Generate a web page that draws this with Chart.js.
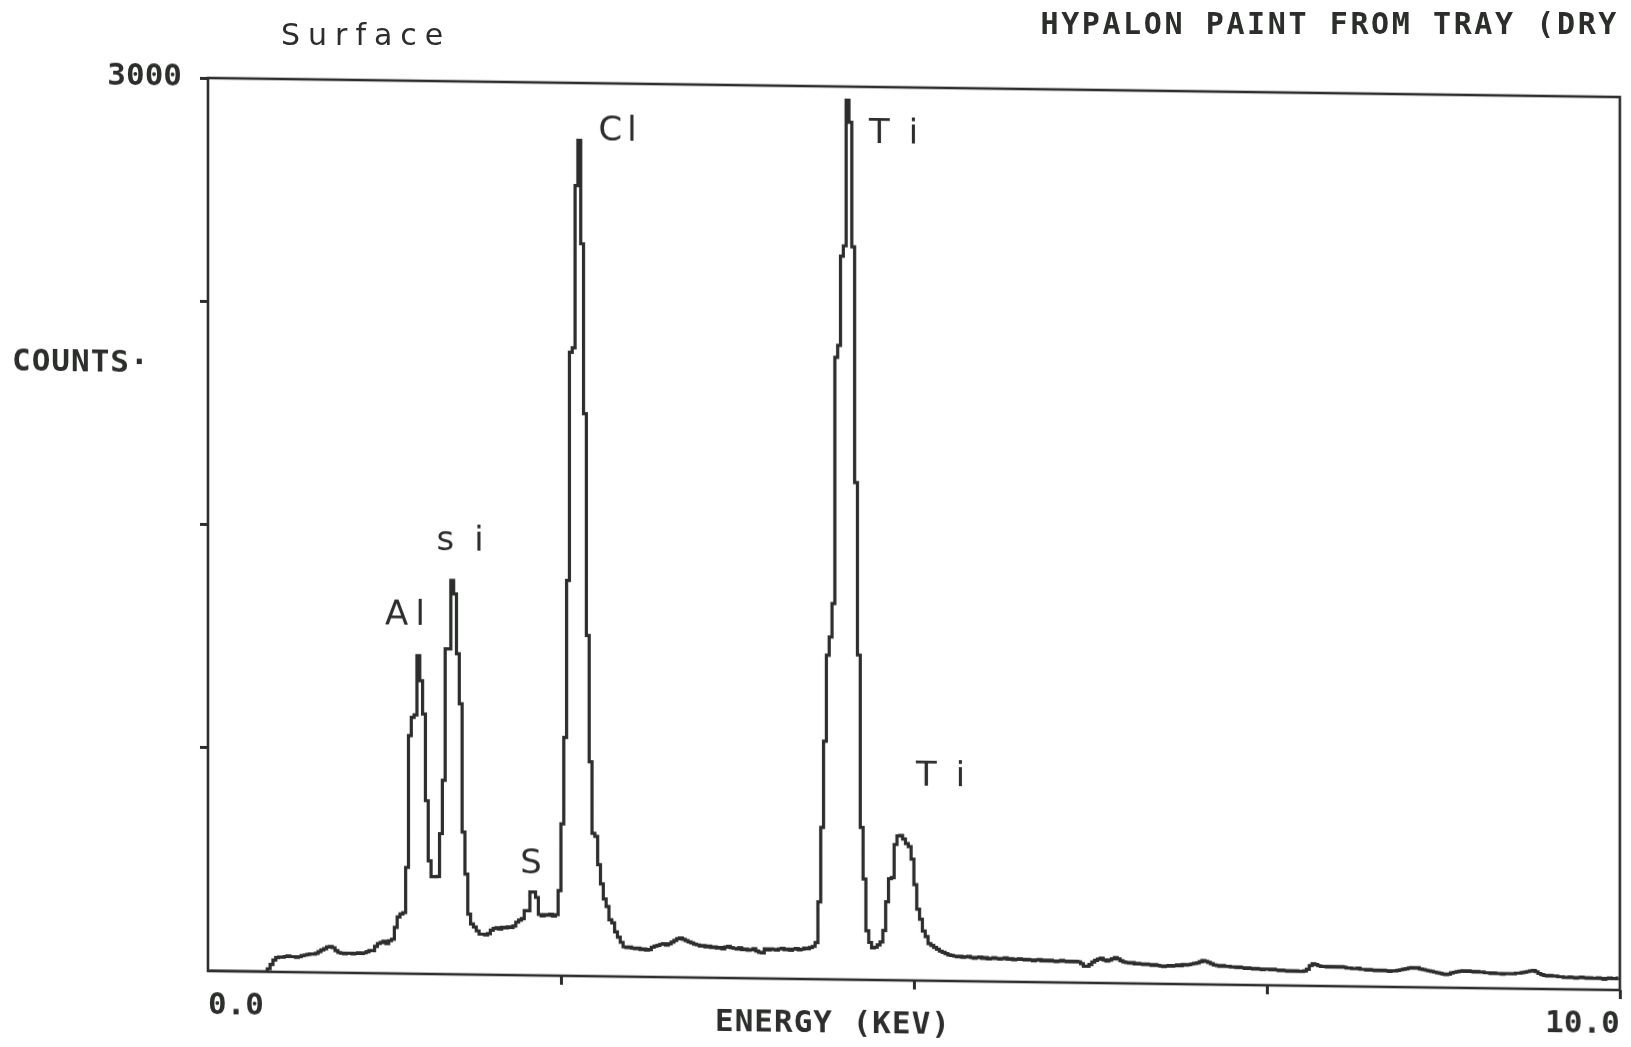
<!DOCTYPE html>
<html>
<head>
<meta charset="utf-8">
<title>Hypalon paint - EDS spectrum</title>
<script src="https://cdn.jsdelivr.net/npm/chart.js@4.4.1/dist/chart.umd.min.js"></script>
<style>
  html, body { margin: 0; padding: 0; background: #fff; }
  body { width: 1631px; height: 1047px; position: relative; overflow: hidden; }
  /* the plotter sheet sits a little crooked */
  #spectrum { position: absolute; left: 0; top: 0; transform-origin: 208px 78px; transform: skewY(0.773deg); }
  .note { position: absolute; color: #2b2e2b; white-space: nowrap; line-height: 1; }
  #sampleName { right: 12px; top: 6px; font: bold 30px "DejaVu Sans Mono"; letter-spacing: 2.6px; }
  #sampleSide { left: 281px; top: 17px; font: 30px "DejaVu Sans"; letter-spacing: 8px; }
</style>
</head>
<body>
<canvas id="spectrum" width="1631" height="1047"></canvas>
<div class="note" id="sampleName">HYPALON PAINT FROM TRAY (DRY</div>
<div class="note" id="sampleSide">Surface</div>
<script>
const ink = "#2b2e2b";

// 20 eV per channel, 0 - 10 keV
const channelWidth = 0.02;
const counts = [
  0, 0, 0, 0, 0, 0, 0, 0, 0, 0, 0, 0, 0, 0, 0, 0, 0, 0, 0, 0,
  0, 10, 25, 40, 48, 50, 50, 52, 54, 52, 52, 50, 52, 56, 58, 60, 62, 62, 64, 70,
  76, 80, 86, 88, 84, 74, 68, 66, 64, 66, 66, 64, 66, 68, 66, 68, 72, 76, 76, 90,
  100, 104, 108, 100, 110, 115, 155, 190, 200, 205, 357, 800, 861, 870, 1069, 985, 873, 582, 380, 327,
  327, 328, 472, 651, 1093, 1093, 1323, 1278, 1077, 909, 478, 337, 203, 170, 160, 147, 136, 136, 134, 138,
  150, 156, 158, 154, 160, 158, 162, 160, 165, 178, 185, 190, 217, 217, 280, 280, 262, 205, 200, 205,
  203, 206, 200, 205, 286, 510, 801, 1328, 2095, 2110, 2655, 2807, 2460, 1889, 1144, 720, 480, 470, 375, 310,
  260, 235, 190, 180, 150, 132, 115, 100, 98, 100, 96, 94, 96, 92, 94, 90, 92, 100, 104, 106,
  110, 112, 108, 112, 118, 124, 130, 132, 128, 124, 120, 116, 112, 110, 106, 108, 104, 106, 102, 104,
  100, 102, 98, 104, 106, 102, 100, 98, 102, 96, 98, 94, 96, 100, 92, 88, 86, 100, 96, 100,
  98, 96, 100, 102, 98, 100, 96, 100, 102, 98, 100, 104, 102, 106, 110, 123, 260, 510, 800, 1089,
  1150, 1263, 2090, 2130, 2430, 2465, 2954, 2880, 2462, 1670, 1091, 512, 339, 165, 126, 108, 110, 118, 128, 167,
  263, 341, 345, 456, 485, 487, 475, 460, 450, 408, 322, 240, 206, 167, 148, 125, 119, 112, 106, 100,
  96, 92, 88, 86, 84, 82, 84, 80, 82, 84, 80, 78, 80, 82, 78, 80, 76, 78, 80, 78,
  76, 78, 80, 76, 78, 74, 76, 78, 76, 74, 76, 74, 72, 74, 76, 72, 74, 72, 74, 72,
  70, 72, 74, 72, 70, 72, 70, 72, 70, 64, 56, 56, 62, 70, 76, 80, 84, 78, 74, 78,
  82, 86, 82, 76, 72, 70, 68, 70, 66, 68, 66, 64, 66, 64, 62, 64, 62, 60, 58, 60,
  62, 60, 62, 64, 62, 66, 64, 66, 68, 70, 72, 76, 80, 78, 74, 70, 66, 64, 62, 64,
  62, 62, 60, 60, 58, 60, 58, 56, 58, 56, 54, 56, 54, 52, 54, 54, 52, 54, 52, 50,
  52, 50, 48, 50, 48, 50, 48, 48, 50, 56, 68, 74, 72, 68, 66, 66, 64, 66, 64, 66,
  64, 66, 64, 62, 62, 60, 60, 62, 58, 58, 56, 58, 56, 54, 56, 54, 56, 54, 52, 54,
  54, 56, 58, 60, 62, 64, 66, 64, 66, 62, 60, 58, 56, 54, 52, 50, 48, 46, 44, 46,
  50, 52, 54, 56, 58, 56, 58, 56, 54, 56, 54, 54, 52, 52, 50, 52, 50, 50, 48, 50,
  50, 50, 50, 52, 52, 54, 56, 58, 60, 62, 58, 52, 48, 46, 44, 46, 44, 44, 42, 42,
  40, 40, 42, 40, 38, 40, 42, 40, 38, 40, 38, 38, 40, 38, 36, 38, 40, 38, 38, 40,
];

const energyTicks = [0, 2.5, 5, 7.5, 10];
const energyTickLabels = ["0.0", "", "", "", "10.0"];
const countTicks = [0, 750, 1500, 2250, 3000];
const countTickLabels = ["", "", "", "", "3000"];

// hand-written element marks next to the peaks
const peakNames = ["Al", "si", "S", "Cl", "Ti", "Ti"];
const peakNameEnergy = [1.395, 1.786, 2.288, 2.9, 4.856, 5.189];
const peakNameCounts = [1202, 1454, 373, 2838, 2840, 684];

const plotterFont = { family: "DejaVu Sans Mono", size: 31, weight: "bold" };
// the handwriting is loose, some marks are spread wide
const markSpacing = { Al: 7, si: 20, S: 0, Cl: 5, Ti: 20 };

const plotFrame = {
  id: "plotFrame",
  afterDraw(chart) {
    const { ctx, chartArea: a, scales } = chart;
    ctx.save();
    ctx.strokeStyle = ink;
    ctx.lineWidth = 2.6;
    ctx.strokeRect(a.left, a.top, a.right - a.left, a.bottom - a.top);

    ctx.fillStyle = ink;
    ctx.font = "bold 31px 'DejaVu Sans Mono'";
    ctx.letterSpacing = "1px";
    ctx.textAlign = "left";
    ctx.textBaseline = "alphabetic";
    ctx.fillText("COUNTS·", 12, 373);
    ctx.fillText("ENERGY (KEV)", 715, a.bottom + 53);

    ctx.font = "34px 'DejaVu Sans'";
    ctx.textBaseline = "middle";
    peakNames.forEach((name, i) => {
      const gap = markSpacing[name] || 0;
      ctx.letterSpacing = gap + "px";
      const w = ctx.measureText(name).width - gap;
      const cx = scales.x.getPixelForValue(peakNameEnergy[i]);
      ctx.fillText(name, cx - w / 2, scales.y.getPixelForValue(peakNameCounts[i]));
    });
    ctx.restore();
  },
};

new Chart(document.getElementById("spectrum"), {
  type: "line",
  data: {
    datasets: [
      {
        data: counts.map((c, i) => ({ x: (i + 0.5) * channelWidth, y: c })),
        stepped: "middle",
        borderColor: ink,
        borderWidth: 3.2,
        pointRadius: 0,
        fill: false,
      },
    ],
  },
  options: {
    responsive: false,
    animation: false,
    devicePixelRatio: 1,
    parsing: false,
    layout: { padding: { top: 78, right: 11, left: 0, bottom: 0 } },
    plugins: {
      legend: { display: false },
      title: { display: false },
      tooltip: { enabled: false },
    },
    scales: {
      x: {
        type: "linear",
        min: 0,
        max: 10,
        afterBuildTicks: (scale) => {
          scale.ticks = energyTicks.map((value) => ({ value }));
        },
        afterFit: (scale) => {
          scale.height = 76;
        },
        border: { display: false },
        grid: {
          drawOnChartArea: false,
          tickLength: 9,
          tickWidth: 3,
          tickColor: (c) => (c.tick && c.tick.value === 0 ? "rgba(0,0,0,0)" : ink),
        },
        ticks: {
          align: "inner",
          maxRotation: 0,
          autoSkip: false,
          padding: 7,
          color: ink,
          font: plotterFont,
          callback: (value) => energyTickLabels[energyTicks.indexOf(value)] ?? "",
        },
      },
      y: {
        min: 0,
        max: 3000,
        afterBuildTicks: (scale) => {
          scale.ticks = countTicks.map((value) => ({ value }));
        },
        afterFit: (scale) => {
          scale.width = 208;
        },
        border: { display: false },
        grid: {
          drawOnChartArea: false,
          tickLength: 8,
          tickWidth: 3,
          tickColor: (c) => (c.tick && c.tick.value === 0 ? "rgba(0,0,0,0)" : ink),
        },
        ticks: {
          padding: 18,
          color: ink,
          font: plotterFont,
          callback: (value) => countTickLabels[countTicks.indexOf(value)] ?? "",
        },
      },
    },
  },
  plugins: [plotFrame],
});
</script>
</body>
</html>
